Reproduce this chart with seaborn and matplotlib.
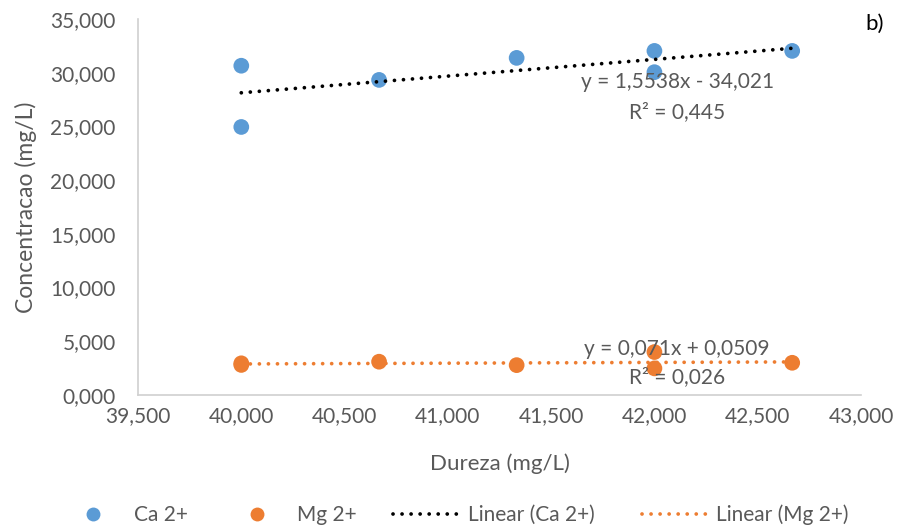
import matplotlib
matplotlib.use("Agg")
import matplotlib.pyplot as plt
from matplotlib.lines import Line2D
from matplotlib.ticker import FuncFormatter, MultipleLocator
import numpy as np
import pandas as pd
import seaborn as sns

# Hardness (x) and ion concentrations (y), both in mg/L
dureza = [40.0, 40.0, 40.667, 41.333, 42.0, 42.0, 42.667]
ca = [30.65, 24.95, 29.33, 31.38, 32.03, 30.05, 32.03]
mg = [2.95, 2.80, 3.10, 2.78, 4.00, 2.48, 3.00]

# Linear trendline coefficients and R² values
ca_fit = (1.5538, -34.021, 0.445)
mg_fit = (0.071, 0.0509, 0.026)

series_names = ["Ca 2+", "Mg 2+"]
colors = {"Ca 2+": "#5B9BD5", "Mg 2+": "#ED7D31"}
text_gray = "#595959"
dotted = (0, (0.01, 2.4))
dot_lw = 2.7

sns.set_theme(style="white")
plt.rcParams["font.family"] = ["Lato", "DejaVu Sans"]

df = pd.DataFrame({
    "Dureza": dureza * 2,
    "Conc": ca + mg,
    "Ion": [series_names[0]] * len(ca) + [series_names[1]] * len(mg),
})

fig = plt.figure(figsize=(9.14, 5.32), dpi=100)
ax = fig.add_axes([0.151, 0.2575, 0.791, 0.7068])

sns.scatterplot(data=df, x="Dureza", y="Conc", hue="Ion", palette=colors,
                s=128, edgecolor="none", ax=ax, legend=False, zorder=3)

# Trendlines over the data range
xl = np.array([min(dureza), max(dureza)])
for (m, b, r2), col in [(ca_fit, "black"), (mg_fit, colors["Mg 2+"])]:
    ax.plot(xl, m * xl + b, color=col, lw=dot_lw, linestyle=dotted,
            dash_capstyle="round", zorder=4)

eq_kw = dict(ha="center", va="center", fontsize=15, color=text_gray, zorder=5)
ax.text(42.11, 29.15, "y = 1,5538x - 34,021", **eq_kw)
ax.text(42.11, 26.35, "R² = 0,445", **eq_kw)
ax.text(42.11, 4.28, "y = 0,071x + 0,0509", **eq_kw)
ax.text(42.11, 1.68, "R² = 0,026", **eq_kw)

comma = FuncFormatter(lambda v, p: f"{v:.3f}".replace(".", ","))
ax.set_xlim(39.5, 43.0)
ax.set_ylim(0, 35)
ax.xaxis.set_major_locator(MultipleLocator(0.5))
ax.yaxis.set_major_locator(MultipleLocator(5))
ax.xaxis.set_major_formatter(comma)
ax.yaxis.set_major_formatter(comma)
ax.tick_params(axis="both", length=0, labelsize=15, colors=text_gray)
ax.tick_params(axis="y", pad=16)
ax.tick_params(axis="x", pad=8)

for side in ["top", "right"]:
    ax.spines[side].set_visible(False)
for side in ["left", "bottom"]:
    ax.spines[side].set_color("#D0D0D0")
    ax.spines[side].set_linewidth(1.2)

ax.set_xlabel("Dureza (mg/L)", fontsize=16, color=text_gray, labelpad=20)
ax.set_ylabel("Concentracao (mg/L)", fontsize=16.5, color=text_gray, labelpad=10)

fig.text(0.957, 0.955, "b)", fontsize=16, color="black", ha="center", va="center")

# Legend: point series and trendlines laid out in one row
marker_handles = [
    Line2D([], [], marker="o", linestyle="none", markersize=10,
           markerfacecolor=colors[n], markeredgecolor="none") for n in series_names
]
line_handles = [
    Line2D([], [], color="black", lw=dot_lw, linestyle=dotted, dash_capstyle="round"),
    Line2D([], [], color=colors["Mg 2+"], lw=dot_lw, linestyle=dotted, dash_capstyle="round"),
]
line_labels = ["Linear (Ca 2+)", "Linear (Mg 2+)"]

leg_a = fig.legend(marker_handles, series_names, loc="center left",
                   bbox_to_anchor=(67 / 914, 0.032), ncol=2, frameon=False,
                   fontsize=15, handlelength=2.5, handletextpad=0.7,
                   columnspacing=2.06, borderpad=0, borderaxespad=0)
leg_b = fig.legend(line_handles, line_labels, loc="center left",
                   bbox_to_anchor=(393 / 914, 0.032), ncol=2, frameon=False,
                   fontsize=15, handlelength=3.1, handletextpad=0.48,
                   columnspacing=2.28, borderpad=0, borderaxespad=0)
for leg in (leg_a, leg_b):
    for t in leg.get_texts():
        t.set_color(text_gray)

fig.savefig("out.png", dpi=100)
